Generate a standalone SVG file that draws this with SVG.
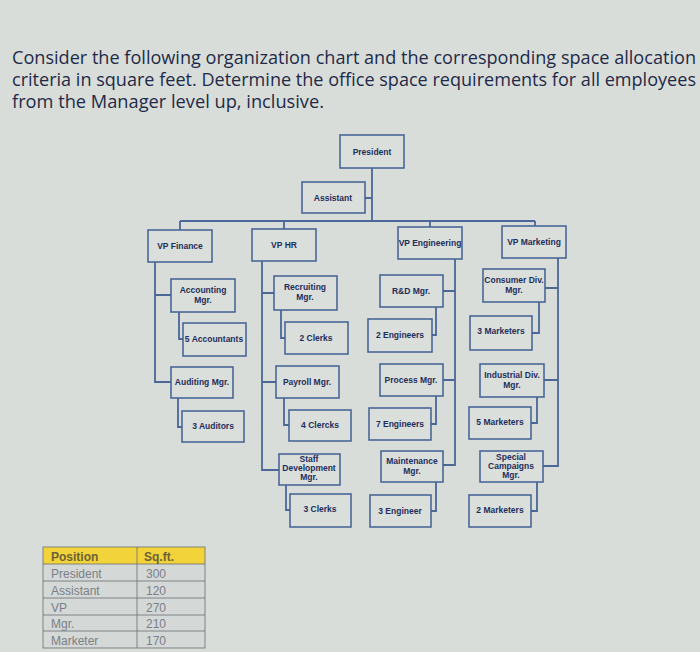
<svg xmlns="http://www.w3.org/2000/svg" width="700" height="652" viewBox="0 0 700 652">
<style>
.t{font-family:"Open Sans","Liberation Sans",sans-serif;font-size:17.6px;fill:#1e2a48}
.b{fill:#dadfdc;stroke:#4a6798;stroke-width:1.6}
.n{font-family:"Liberation Sans",sans-serif;font-size:8.5px;font-weight:bold;fill:#1f2d5a;text-anchor:middle}
.c{fill:none;stroke:#4a6798;stroke-width:1.8}
.tb{font-family:"Liberation Sans",sans-serif;font-size:12px;fill:#7a7f88}
</style>
<rect width="700" height="652" fill="#d9ddda"/>
<text class="t" x="12" y="64" textLength="684" lengthAdjust="spacingAndGlyphs">Consider the following organization chart and the corresponding space allocation</text>
<text class="t" x="12" y="86" textLength="684" lengthAdjust="spacingAndGlyphs">criteria in square feet. Determine the office space requirements for all employees</text>
<text class="t" x="12" y="108" textLength="312" lengthAdjust="spacingAndGlyphs">from the Manager level up, inclusive.</text>
<g id="connectors" class="c">
<path d="M372 168V221M365 198H372M180 221H535M180 221V230M284 221V229M430 221V227M535 221V226"/>
<path d="M155 262V382H171M155 295H171M179 312V339H183M178 398V427H182"/>
<path d="M262 261V470H279M262 293H274M262 382H276M281 310V338H285M284 398V425H289M286 485V510H290"/>
<path d="M455 259V465H443M443 291H455M443 380H455M436 307V335H432M436 396V424H431M436 482V511H431"/>
<path d="M558 258V466H543M545 288H558M544 380H558M539 302V333H532M537 397V423H531M537 482V511H531"/>
</g>
<g id="president"><rect class="b" x="340" y="135" width="64" height="33"/><text class="n" x="372" y="155">President</text></g>
<g id="assistant"><rect class="b" x="302" y="182" width="63" height="31"/><text class="n" x="333" y="201">Assistant</text></g>
<g id="vpfin"><rect class="b" x="148" y="230" width="64" height="32"/><text class="n" x="180" y="249">VP Finance</text></g>
<g id="vphr"><rect class="b" x="252" y="229" width="64" height="32"/><text class="n" x="284" y="248">VP HR</text></g>
<g id="vpeng"><rect class="b" x="398" y="227" width="64" height="32"/><text class="n" x="430" y="246">VP Engineering</text></g>
<g id="vpmkt"><rect class="b" x="502" y="226" width="64" height="32"/><text class="n" x="534" y="245">VP Marketing</text></g>
<g id="accmgr"><rect class="b" x="171" y="279" width="64" height="33"/><text class="n" x="203" y="293">Accounting</text><text class="n" x="203" y="303">Mgr.</text></g>
<g id="acc5"><rect class="b" x="183" y="323" width="63" height="33"/><text class="n" x="214" y="342">5 Accountants</text></g>
<g id="audmgr"><rect class="b" x="171" y="367" width="62" height="31"/><text class="n" x="202" y="385">Auditing Mgr.</text></g>
<g id="aud3"><rect class="b" x="182" y="411" width="62" height="31"/><text class="n" x="213" y="429">3 Auditors</text></g>
<g id="recmgr"><rect class="b" x="274" y="276" width="63" height="34"/><text class="n" x="305" y="290">Recruiting</text><text class="n" x="305" y="300">Mgr.</text></g>
<g id="clerks2"><rect class="b" x="285" y="322" width="63" height="32"/><text class="n" x="316" y="341">2 Clerks</text></g>
<g id="paymgr"><rect class="b" x="276" y="366" width="63" height="32"/><text class="n" x="307" y="385">Payroll Mgr.</text></g>
<g id="clercks4"><rect class="b" x="289" y="410" width="62" height="31"/><text class="n" x="320" y="428">4 Clercks</text></g>
<g id="staffmgr"><rect class="b" x="279" y="454" width="61" height="31"/><text class="n" x="309" y="462">Staff</text><text class="n" x="309" y="471">Development</text><text class="n" x="309" y="480">Mgr.</text></g>
<g id="clerks3"><rect class="b" x="290" y="494" width="61" height="33"/><text class="n" x="320" y="512">3 Clerks</text></g>
<g id="rdmgr"><rect class="b" x="380" y="275" width="63" height="32"/><text class="n" x="411" y="294">R&amp;D Mgr.</text></g>
<g id="eng2"><rect class="b" x="368" y="319" width="64" height="33"/><text class="n" x="400" y="338">2 Engineers</text></g>
<g id="procmgr"><rect class="b" x="380" y="364" width="63" height="32"/><text class="n" x="411" y="383">Process Mgr.</text></g>
<g id="eng7"><rect class="b" x="369" y="408" width="62" height="32"/><text class="n" x="400" y="427">7 Engineers</text></g>
<g id="maintmgr"><rect class="b" x="381" y="451" width="62" height="31"/><text class="n" x="412" y="464">Maintenance</text><text class="n" x="412" y="474">Mgr.</text></g>
<g id="eng3"><rect class="b" x="370" y="495" width="61" height="32"/><text class="n" x="400" y="514">3 Engineer</text></g>
<g id="consmgr"><rect class="b" x="483" y="269" width="62" height="33"/><text class="n" x="514" y="283">Consumer Div.</text><text class="n" x="514" y="293">Mgr.</text></g>
<g id="mkt3"><rect class="b" x="470" y="316" width="62" height="34"/><text class="n" x="501" y="334">3 Marketers</text></g>
<g id="indmgr"><rect class="b" x="480" y="364" width="64" height="33"/><text class="n" x="512" y="378">Industrial Div.</text><text class="n" x="512" y="388">Mgr.</text></g>
<g id="mkt5"><rect class="b" x="469" y="407" width="62" height="32"/><text class="n" x="500" y="425">5 Marketers</text></g>
<g id="specmgr"><rect class="b" x="480" y="451" width="63" height="31"/><text class="n" x="511" y="460">Special</text><text class="n" x="511" y="469">Campaigns</text><text class="n" x="511" y="478">Mgr.</text></g>
<g id="mkt2"><rect class="b" x="469" y="495" width="62" height="32"/><text class="n" x="500" y="513">2 Marketers</text></g>
<g id="table">
<rect x="43" y="547" width="162" height="17" fill="#f2d33a"/>
<rect x="43" y="564" width="162" height="84" fill="#d4d8d6"/>
<g stroke="#6a6f72" stroke-width="0.8" fill="none">
<rect x="43" y="547" width="162" height="101"/>
<path d="M137 547V648M43 564H205M43 581H205M43 598H205M43 615H205M43 631H205"/>
</g>
<text class="tb" x="51" y="561" style="fill:#6b6236;font-weight:bold">Position</text>
<text class="tb" x="144" y="561" style="fill:#6b6236;font-weight:bold">Sq.ft.</text>
<text class="tb" x="51" y="578">President</text><text class="tb" x="146" y="578">300</text>
<text class="tb" x="51" y="595">Assistant</text><text class="tb" x="146" y="595">120</text>
<text class="tb" x="51" y="612">VP</text><text class="tb" x="146" y="612">270</text>
<text class="tb" x="51" y="628">Mgr.</text><text class="tb" x="146" y="628">210</text>
<text class="tb" x="51" y="645">Marketer</text><text class="tb" x="146" y="645">170</text>
</g>
</svg>
